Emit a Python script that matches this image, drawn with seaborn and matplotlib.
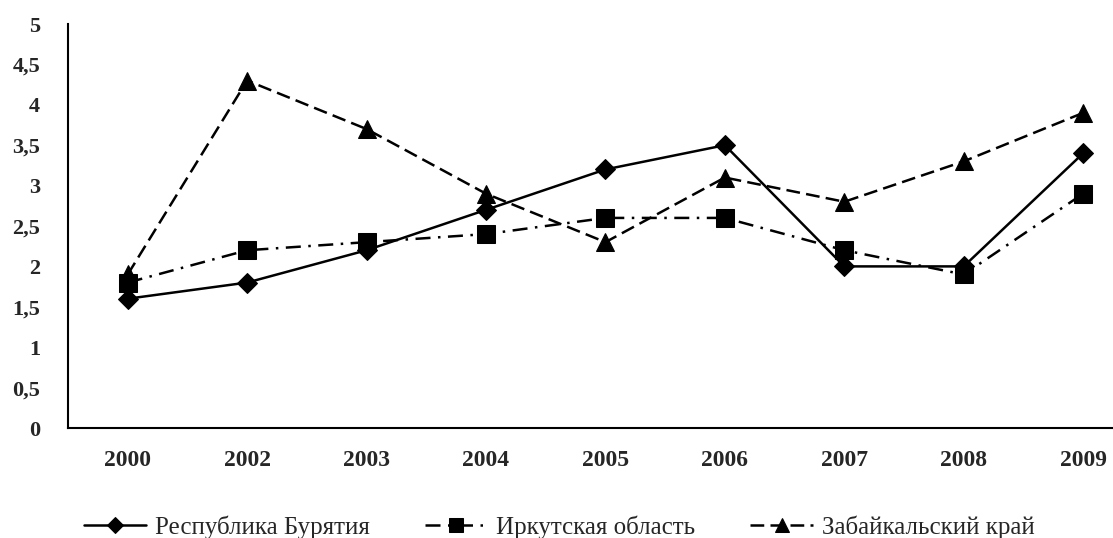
import matplotlib
matplotlib.use('Agg')
import matplotlib.pyplot as plt
import seaborn as sns
import pandas as pd
import numpy as np

years = ['2000', '2002', '2003', '2004', '2005', '2006', '2007', '2008', '2009']
buryatia = [1.6, 1.8, 2.2, 2.7, 3.2, 3.5, 2.0, 2.0, 3.4]
irkutsk = [1.8, 2.2, 2.3, 2.4, 2.6, 2.6, 2.2, 1.9, 2.9]
zabaikal = [1.9, 4.3, 3.7, 2.9, 2.3, 3.1, 2.8, 3.3, 3.9]
names = ['Республика Бурятия', 'Иркутская область', 'Забайкальский край']
y_ticks = [0, 0.5, 1, 1.5, 2, 2.5, 3, 3.5, 4, 4.5, 5]

df = pd.DataFrame({
    'year': years * 3,
    'value': buryatia + irkutsk + zabaikal,
    'region': [names[0]] * 9 + [names[1]] * 9 + [names[2]] * 9,
})

sns.set_style('white')
plt.rcParams['font.family'] = ['Liberation Serif', 'DejaVu Serif']

fig = plt.figure(figsize=(11.13, 5.38), dpi=100)
ax = fig.add_axes([68 / 1113, 1 - 428 / 538, 1 - 68 / 1113, (428 - 24) / 538])

sns.lineplot(data=df, x='year', y='value', hue='region', style='region',
             palette=['black'] * 3,
             markers={names[0]: 'D', names[1]: 's', names[2]: '^'},
             dashes={names[0]: '', names[1]: (6, 3, 1, 3), names[2]: (5.5, 2.5)},
             markersize=11, linewidth=1.8, markeredgecolor='black',
             ax=ax, sort=False)

# marker sizes differ a bit between series
msizes = [10, 13, 13]
for line, ms in zip(ax.lines[:3], msizes):
    line.set_markersize(ms)

ax.set_xlim(-0.5, 8.25)
ax.set_ylim(0, 5)
ax.set_yticks(y_ticks)
ax.set_yticklabels([str(t).replace('.', ',') if t % 1 else str(int(t)) for t in y_ticks],
                   fontsize=16, fontweight='bold')
ax.set_xticks(range(len(years)))
ax.set_xticklabels(years, fontsize=17, fontweight='bold')
ax.tick_params(axis='both', length=0)
ax.tick_params(axis='x', pad=16)
ax.tick_params(axis='y', pad=20)
ax.set_xlabel('')
ax.set_ylabel('')
ax.spines['top'].set_visible(False)
ax.spines['right'].set_visible(False)
for s in ['left', 'bottom']:
    ax.spines[s].set_color('black')
    ax.spines[s].set_linewidth(1.5)

handles, labels = ax.get_legend_handles_labels()
leg = ax.legend(handles, labels, loc='center', bbox_to_anchor=(0.47, -0.245),
                ncol=3, frameon=False, fontsize=18, handlelength=2.5,
                columnspacing=2.2, handletextpad=0.35)
for h, ms in zip(leg.legend_handles, [8, 10, 10]):
    h.set_markersize(ms)

fig.savefig('out.png', dpi=100)
